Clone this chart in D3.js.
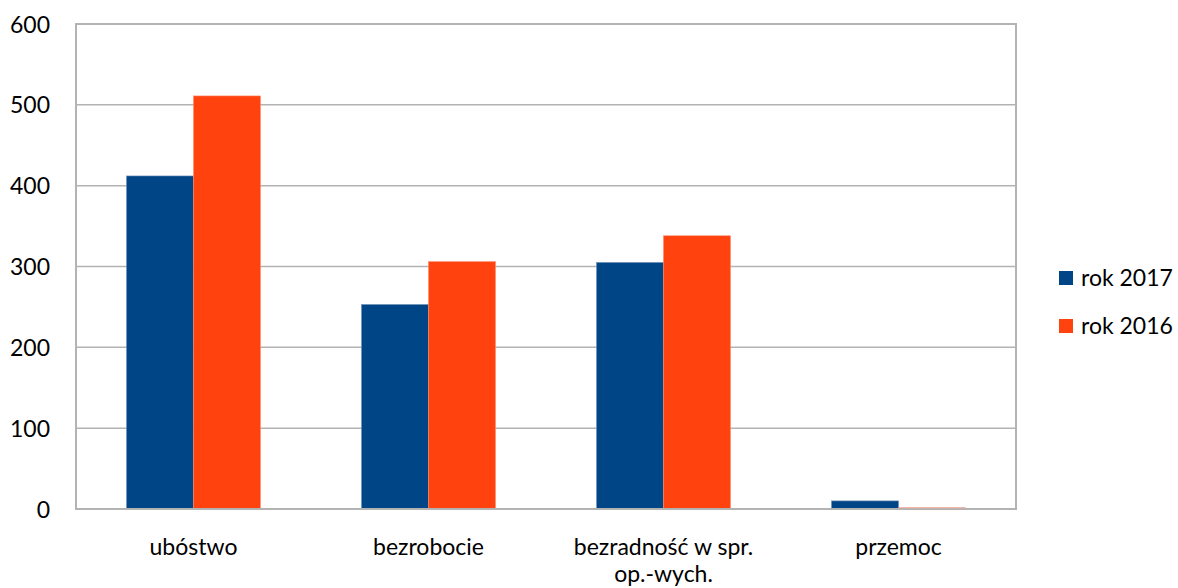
<!DOCTYPE html>
<html><head><meta charset="utf-8">
<script src="https://cdn.jsdelivr.net/npm/d3@7/dist/d3.min.js"></script>
<style>body{margin:0;background:#fff}svg{display:block}text{font-family:Lato,"Open Sans",sans-serif;fill:#000}</style>
</head><body><svg id="c" width="1178" height="588"></svg>
<script>
const categories = [["ubóstwo"], ["bezrobocie"], ["bezradność w spr.", "op.-wych."], ["przemoc"]];
const seriesNames = ["rok 2017", "rok 2016"];
const values2017 = [412, 253, 305, 10];
const values2016 = [511, 306, 338, 1];
const colors = ["#004586", "#ff420e"];
const yTicks = [0, 100, 200, 300, 400, 500, 600];

const FS = 23;
const svg = d3.select("#c");
const L = 76, R = 1016, T = 24, B = 509;
const keys = categories.map((c, i) => i);
const x0 = d3.scaleBand().domain(keys).range([L, R]).paddingInner(0.43).paddingOuter(0.215);
const x1 = d3.scaleBand().domain([0, 1]).range([0, x0.bandwidth()]);
const y = d3.scaleLinear().domain([0, 600]).range([B, T]);

// gridlines
svg.append("g").selectAll("line").data(yTicks).join("line")
  .attr("x1", L).attr("x2", R).attr("y1", d => y(d)).attr("y2", d => y(d))
  .attr("stroke", "#b3b3b3").attr("stroke-width", 1.5);

// bars
const series = [values2017, values2016];
series.forEach((vals, s) => {
  svg.append("g").selectAll("rect").data(vals).join("rect")
    .attr("x", (d, i) => x0(i) + x1(s))
    .attr("width", x1.bandwidth())
    .attr("y", d => y(d))
    .attr("height", d => B - y(d))
    .attr("fill", colors[s])
    .attr("stroke", s === 0 ? "#6f8fb5" : "#ff8a6a").attr("stroke-width", 0.6);
});

// frame
svg.append("rect").attr("x", L).attr("y", T).attr("width", R - L).attr("height", B - T)
  .attr("fill", "none").attr("stroke", "#b3b3b3").attr("stroke-width", 2);

// thin line for tiny value (visible above frame)
svg.append("g").selectAll("line").data(values2016.map((v, i) => [v, i]).filter(d => d[0] < 3)).join("line")
  .attr("x1", d => x0(d[1]) + x1(1)).attr("x2", d => x0(d[1]) + x1(1) + x1.bandwidth())
  .attr("y1", d => y(d[0]) - 0.5).attr("y2", d => y(d[0]) - 0.5)
  .attr("stroke", "#f0a898").attr("stroke-width", 1);

// y axis labels
const yAxis = d3.axisLeft(y).tickValues(yTicks).tickSize(0).tickPadding(26);
const ga = svg.append("g").attr("transform", `translate(${L},0)`).call(yAxis);
ga.select(".domain").remove();
ga.selectAll("text").attr("font-size", FS).attr("font-family", "Lato, 'Open Sans', sans-serif").attr("fill", "#000").attr("dy", "0.35em");

// category labels
const gx = svg.append("g");
categories.forEach((lines, i) => {
  const t = gx.append("text").attr("x", x0(i) + x0.bandwidth() / 2).attr("y", 555)
    .attr("text-anchor", "middle").attr("font-size", FS);
  lines.forEach((ln, j) => t.append("tspan").attr("x", x0(i) + x0.bandwidth() / 2).attr("dy", j === 0 ? 0 : 27).text(ln));
});

// legend
const lg = svg.append("g");
seriesNames.forEach((n, i) => {
  const yy = 278 + i * 48;
  lg.append("rect").attr("x", 1059).attr("y", yy - 7).attr("width", 14).attr("height", 14).attr("fill", colors[i]);
  lg.append("text").attr("x", 1081).attr("y", yy).attr("dy", "0.35em").attr("font-size", FS).text(n);
});
</script></body></html>
